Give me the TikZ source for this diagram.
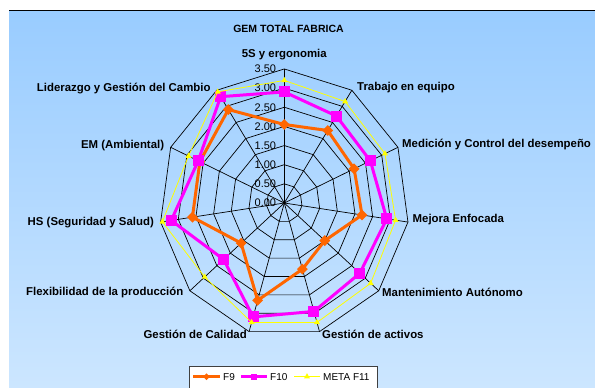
\documentclass[tikz,border=0pt]{standalone}
\usepackage{fontspec}
\setmainfont{Liberation Sans}
\usetikzlibrary{shapes.geometric,calc}
\definecolor{skytop}{HTML}{99CCFF}
\definecolor{skybot}{HTML}{CCE6FF}
\definecolor{fnine}{HTML}{FF6600}
\definecolor{ften}{HTML}{FF00FF}
\definecolor{metaf}{HTML}{FFFF00}
\begin{document}
\begin{tikzpicture}[x=1pt,y=-1pt,
    grid/.style={black,line width=0.7pt},
    axlabel/.style={font=\fontsize{11.4}{13}\selectfont\bfseries,inner sep=0pt},
    ticklabel/.style={font=\fontsize{11}{12}\selectfont,anchor=east,inner sep=0pt},
    keylabel/.style={font=\fontsize{10}{12}\selectfont,anchor=west,inner sep=0pt},
    f9line/.style={fnine,line width=3pt,line join=round},
    f10line/.style={ften,line width=3pt,line join=round},
    metaline/.style={metaf,line width=0.8pt},
    f9mark/.style={diamond,fill=fnine,inner sep=0pt,minimum size=11pt},
    f10mark/.style={rectangle,fill=ften,inner sep=0pt,minimum size=11pt},
    metamark/.style={regular polygon,regular polygon sides=3,fill=metaf,inner sep=0pt,minimum size=7pt}]
  \useasboundingbox (0,0) rectangle (595,388);
  \fill[white] (0,0) rectangle (595,388);
  \shade[top color=skytop,bottom color=skybot] (9,10) rectangle (595,388);
  \draw[black,line width=1pt] (9,10) -- (595,10);
  \node[font=\fontsize{10.5}{12}\selectfont\bfseries] (title) at (288.5,29) {GEM TOTAL FABRICA};
  \coordinate (c) at (284.3,203);
  \begin{scope}[shift={(c)},x=35.7pt,y=38.3pt]
    % rings and spokes
    \foreach \r in {0.5,1,...,3.5}
      \draw[grid] (90:\r) \foreach \k in {1,...,10}{ -- ({90-\k*360/11}:\r)} -- cycle;
    \foreach \k in {0,...,10}
      \draw[grid] (0,0) -- ({90-\k*360/11}:3.5);
    \fill (0,0) circle (1.3pt);
    \foreach \v/\t [count=\i] in {0/0.00,0.5/0.50,1/1.00,1.5/1.50,2/2.00,2.5/2.50,3/3.00,3.5/3.50}
      \node[ticklabel] (tick\i) at (0,\v) [xshift=-8pt] {\t};
    % data
    \foreach \v [count=\i from 0] in {2.05,2.25,2.15,2.2,1.5,1.8,2.65,1.6,2.6,2.6,2.9}
      \coordinate (f9-\i) at ({90-\i*360/11}:\v);
    \foreach \v [count=\i from 0] in {2.9,2.7,2.65,2.9,2.8,2.95,3.1,2.25,3.2,2.65,3.3}
      \coordinate (f10-\i) at ({90-\i*360/11}:\v);
    \foreach \v [count=\i from 0] in {3.2,3.15,3.1,3.15,3.2,3.25,3.25,2.95,3.45,2.95,3.45}
      \coordinate (meta-\i) at ({90-\i*360/11}:\v);
  \end{scope}
  \draw[f9line] (f9-0) \foreach \i in {1,...,10}{ -- (f9-\i)} -- cycle;
  \foreach \i in {0,...,10} \node[f9mark] at (f9-\i) {};
  \draw[f10line] (f10-0) \foreach \i in {1,...,10}{ -- (f10-\i)} -- cycle;
  \foreach \i in {0,...,10} \node[f10mark] at (f10-\i) {};
  \draw[metaline] (meta-0) \foreach \i in {1,...,10}{ -- (meta-\i)} -- cycle;
  \foreach \i in {0,...,10} \node[metamark] at (meta-\i) {};
  % axis names
  \node[axlabel] (l0) at (284.3,55) {5S y ergonomia};
  \node[axlabel,anchor=west] (l1) at (357,88) {Trabajo en equipo};
  \node[axlabel,anchor=west] (l2) at (402,144.3) {Medición y Control del desempeño};
  \node[axlabel,anchor=west] (l3) at (412.5,220) {Mejora Enfocada};
  \node[axlabel,anchor=west] (l4) at (382,292.7) {Mantenimiento Autónomo};
  \node[axlabel,anchor=west] (l5) at (322,334) {Gestión de activos};
  \node[axlabel,anchor=east] (l6) at (247,334) {Gestión de Calidad};
  \node[axlabel,anchor=east] (l7) at (183.5,292.7) {Flexibilidad de la producción};
  \node[axlabel,anchor=east] (l8) at (154,222.3) {HS (Seguridad y Salud)};
  \node[axlabel,anchor=east] (l9) at (164.3,145.7) {EM (Ambiental)};
  \node[axlabel,anchor=east] (l10) at (210.7,88.3) {Liderazgo y Gestión del Cambio};
  % legend
  \draw[fill=white,draw=black!75,line width=0.8pt] (189.3,366.7) rectangle (377.7,392);
  \coordinate (k1a) at (193,376.7); \coordinate (k1b) at (220,376.7);
  \coordinate (k2a) at (241,376.7); \coordinate (k2b) at (267,376.7);
  \coordinate (k3a) at (294,376.7); \coordinate (k3b) at (320,376.7);
  \draw[f9line] (k1a) -- (k1b);
  \node[f9mark,minimum size=7pt] (m1) at ($(k1a)!0.5!(k1b)$) {};
  \draw[f10line] (k2a) -- (k2b);
  \node[f10mark,minimum size=6pt] (m2) at ($(k2a)!0.5!(k2b)$) {};
  \draw[metaline] (k3a) -- (k3b);
  \node[metamark,minimum size=7pt] (m3) at ($(k3a)!0.5!(k3b)$) {};
  \node[keylabel] (n1) at (223,376.7) {F9};
  \node[keylabel] (n2) at (270,376.7) {F10};
  \node[keylabel] (n3) at (323,376.7) {META F11};
\end{tikzpicture}
\end{document}
